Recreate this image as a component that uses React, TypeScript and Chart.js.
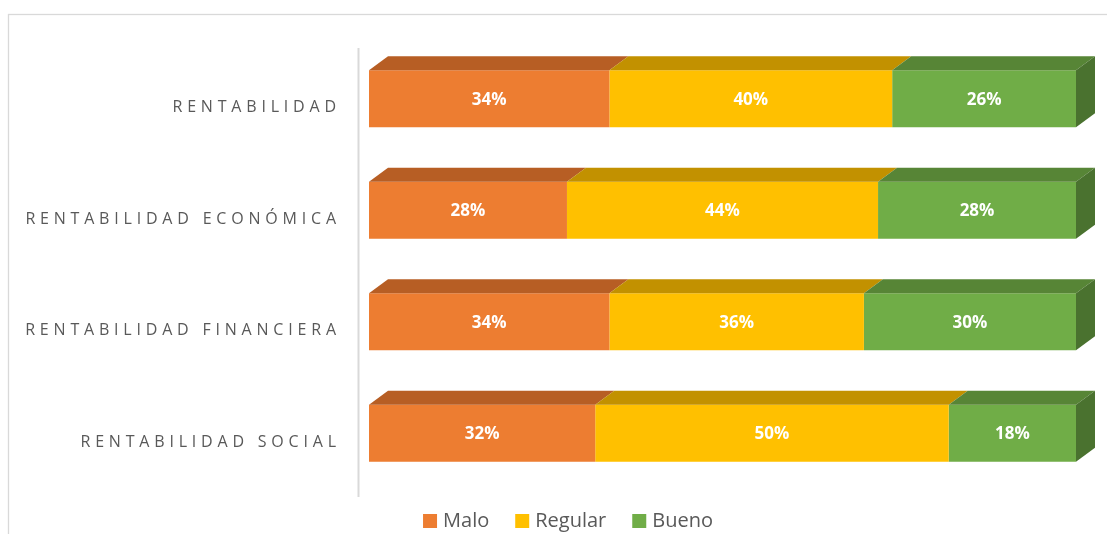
import React, { useEffect, useRef } from "react";
import { Chart, registerables } from "chart.js";

Chart.register(...registerables);

const categories = [
  "RENTABILIDAD",
  "RENTABILIDAD ECONÓMICA",
  "RENTABILIDAD FINANCIERA",
  "RENTABILIDAD SOCIAL",
];
const malo = [34, 28, 34, 32];
const regular = [40, 44, 36, 50];
const bueno = [26, 28, 30, 18];
const seriesNames = ["Malo", "Regular", "Bueno"];
const frontColors = ["#ED7D31", "#FFC000", "#70AD47"];
const topColors = ["#B75E24", "#C29100", "#578536"];
const sideColor = "#4A722F";

const DX = 19;
const DY = 14;

const threeD = {
  id: "threeD",
  beforeDraw(chart: any) {
    const ctx = chart.ctx;
    ctx.save();
    ctx.strokeStyle = "#D9D9D9";
    ctx.lineWidth = 1.3;
    ctx.strokeRect(8.5, 14.5, 1120, 540);
    ctx.strokeStyle = "#D9D9D9";
    ctx.lineWidth = 2;
    ctx.beginPath();
    ctx.moveTo(358.5, 48);
    ctx.lineTo(358.5, 497);
    ctx.stroke();
    ctx.restore();
  },
  afterDatasetsDraw(chart: any) {
    const ctx = chart.ctx;
    ctx.save();
    const n = chart.data.datasets.length;
    for (let d = 0; d < n; d++) {
      const meta = chart.getDatasetMeta(d);
      meta.data.forEach((bar: any) => {
        const p = bar.getProps(["x", "y", "base", "height"], true);
        const top = p.y - p.height / 2;
        const bottom = p.y + p.height / 2;
        const x0 = Math.min(p.x, p.base);
        const x1 = Math.max(p.x, p.base);
        ctx.fillStyle = topColors[d];
        ctx.beginPath();
        ctx.moveTo(x0, top);
        ctx.lineTo(x1, top);
        ctx.lineTo(x1 + DX, top - DY);
        ctx.lineTo(x0 + DX, top - DY);
        ctx.closePath();
        ctx.fill();
        if (d === n - 1) {
          ctx.fillStyle = sideColor;
          ctx.beginPath();
          ctx.moveTo(x1, top);
          ctx.lineTo(x1 + DX, top - DY);
          ctx.lineTo(x1 + DX, bottom - DY);
          ctx.lineTo(x1, bottom);
          ctx.closePath();
          ctx.fill();
        }
      });
    }
    ctx.fillStyle = "#FFFFFF";
    ctx.font = "bold 17px 'Open Sans'";
    ctx.textAlign = "center";
    ctx.textBaseline = "middle";
    for (let d = 0; d < n; d++) {
      const meta = chart.getDatasetMeta(d);
      const vals = chart.data.datasets[d].data;
      meta.data.forEach((bar: any, i: number) => {
        const p = bar.getProps(["x", "y", "base"], true);
        ctx.fillText(vals[i] + "%", (p.x + p.base) / 2, p.y + 1);
      });
    }
    const ls = 4.8;
    ctx.font = "16px 'Open Sans'";
    ctx.fillStyle = "#595959";
    (ctx as any).letterSpacing = ls + "px";
    ctx.textAlign = "left";
    ctx.textBaseline = "middle";
    const yScale = chart.scales.y;
    categories.forEach((c, i) => {
      const y = yScale.getPixelForValue(i) + 9;
      const w = ctx.measureText(c).width - ls;
      ctx.fillText(c, 336 - w, y);
    });
    (ctx as any).letterSpacing = "0px";
    ctx.font = "20px 'Open Sans'";
    ctx.textBaseline = "middle";
    const box = 14;
    const gapText = 6;
    const gapItem = 26;
    const widths = seriesNames.map((s) => box + gapText + ctx.measureText(s).width);
    const total = widths.reduce((a, b) => a + b, 0) + gapItem * (seriesNames.length - 1);
    let x = 568 - total / 2;
    const ly = 521;
    seriesNames.forEach((s, i) => {
      ctx.fillStyle = frontColors[i];
      ctx.fillRect(x, ly - box / 2, box, box);
      ctx.fillStyle = "#595959";
      ctx.fillText(s, x + box + gapText, ly);
      x += widths[i] + gapItem;
    });
    ctx.restore();
  },
};

export default function App() {
  const ref = useRef<HTMLCanvasElement>(null);
  useEffect(() => {
    if (!ref.current) return;
    const chart = new Chart(ref.current, {
      type: "bar",
      data: {
        labels: categories,
        datasets: [
          { label: seriesNames[0], data: malo, backgroundColor: frontColors[0] },
          { label: seriesNames[1], data: regular, backgroundColor: frontColors[1] },
          { label: seriesNames[2], data: bueno, backgroundColor: frontColors[2] },
        ],
      },
      options: {
        indexAxis: "y",
        animation: false,
        responsive: false,
        maintainAspectRatio: false,
        layout: { padding: { left: 369, right: 31, top: 43, bottom: 45 } },
        datasets: { bar: { categoryPercentage: 1, barPercentage: 0.51, borderWidth: 0 } },
        scales: {
          x: { stacked: true, min: 0, max: 100, display: false },
          y: { stacked: true, display: false },
        },
        plugins: {
          legend: { display: false },
          tooltip: { enabled: false },
        },
      },
      plugins: [threeD],
    });
    return () => chart.destroy();
  }, []);
  return (
    <div style={{ position: "fixed", left: 0, top: 0, width: 1107, height: 534, background: "#fff" }}>
      <canvas ref={ref} width={1107} height={534} style={{ width: 1107, height: 534 }} />
    </div>
  );
}
